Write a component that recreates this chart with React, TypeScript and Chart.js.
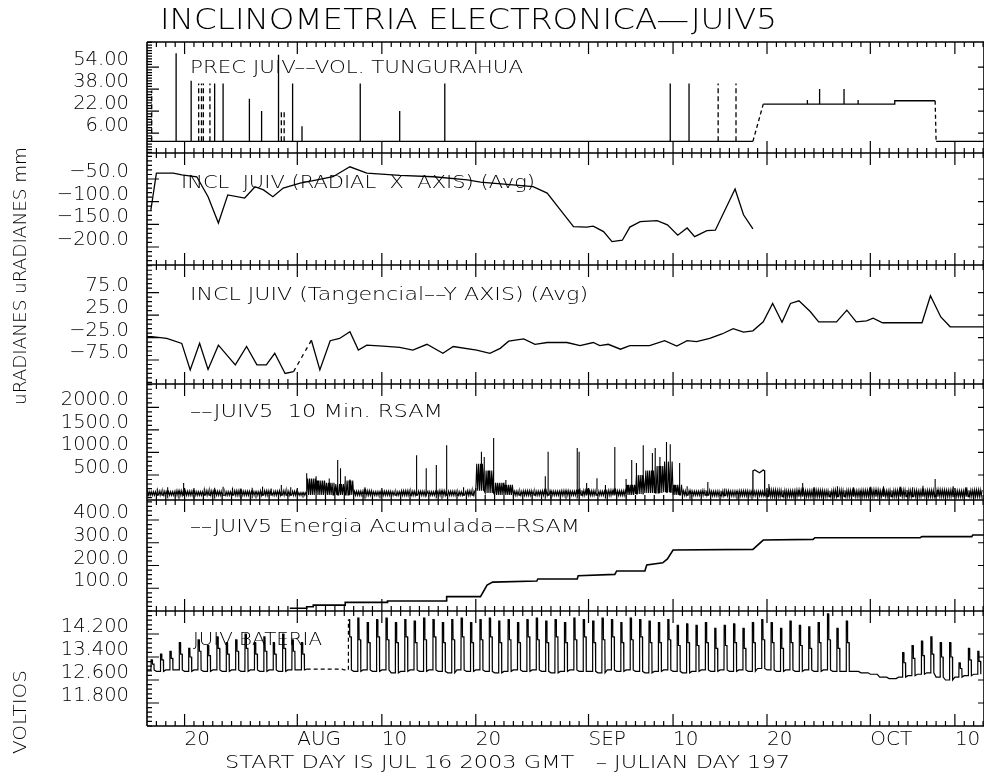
import React, { useEffect, useRef } from 'react';
import { Chart, registerables } from 'chart.js';

Chart.register(...registerables);

// ---------------- X axis (days since JUL 16 2003) ----------------
const X_MIN = 0;
const X_MAX = 89.1;
const xTickDays = [4, 16, 25, 35, 47, 56, 66, 77, 86];
const xTickLabels = ['20', 'AUG', '10', '20', 'SEP', '10', '20', 'OCT', '10'];

// ---------------- Panel 1 : precipitation (mm) ----------------
const p1Ticks = [6, 22, 38, 54];
const p1Labels = ['6.00', '22.00', '38.00', '54.00'];
const precDays = [3.1, 4.7, 7.2, 8.1, 10.9, 12.2, 14.0, 15.5, 16.5, 22.7, 26.9, 31.7, 55.7, 57.7];
const precVals = [64, 44, 42, 42, 31, 22, 63, 42, 11, 42, 22, 42, 42, 42];
const precDashDays = [0.5, 5.5, 5.8, 6.0, 6.7, 14.3, 14.6, 60.8, 62.7];
const precDashVals = [37, 42, 42, 42, 42, 22, 22, 42, 42];
const precLevelDays = [0, 64.5, 64.5, 65.6, 70.3, 70.3, 70.3, 71.6, 71.6, 71.6, 74.2, 74.2, 74.2, 75.7, 75.7, 75.7, 79.6, 79.6, 83.9, 83.9, 84.0, 89.1];
const precLevelVals = [0, 0, null, 27, 27, 30, 27, 27, 38, 27, 27, 38, 27, 27, 30, 27, 27, 29.5, 29.5, null, 0, 0];
const precGapDays = [64.5, 65.6, 65.6, 83.9, 84.0];
const precGapVals = [0, 27, null, 29.5, 0];

// ---------------- Panel 2 : radial X (uRADIANES) ----------------
const p2Ticks = [-200, -150, -100, -50];
const p2Labels = ['\u2212200.0', '\u2212150.0', '\u2212100.0', '\u221250.0'];
const radDays = [0.4, 1.0, 2.8, 3.7, 5.3, 6.5, 7.6, 8.6, 10.4, 11.5, 12.4, 13.4, 14.5, 16.3, 18.1, 19.8, 21.6, 23.4, 26.9, 30.5, 34.1, 35.5, 41.1, 42.6, 44.0, 45.4, 46.8, 47.5, 48.6, 49.5, 50.6, 51.4, 52.5, 54.3, 55.4, 56.5, 57.5, 58.3, 59.6, 60.5, 62.6, 63.5, 64.5];
const radVals = [-120, -37, -37, -41, -45, -89, -147, -85, -92, -67, -74, -89, -70, -59, -52, -45, -23, -37, -42, -45, -52, -57, -67, -81, -118, -155, -156, -154, -166, -188, -185, -156, -144, -142, -151, -174, -158, -177, -164, -163, -72, -129, -160];

// ---------------- Panel 3 : tangential Y (uRADIANES) ----------------
const p3Ticks = [-75, -25, 25, 75];
const p3Labels = ['\u221275.0', '\u221225.0', '25.0', '75.0'];
const tangDays = [0, 0.5, 2.1, 3.7, 4.6, 5.6, 6.5, 7.6, 9.4, 10.6, 11.7, 12.7, 13.6, 14.7, 15.6, 16.3, 17.5, 18.4, 19.5, 20.5, 21.6, 22.5, 23.4, 25.1, 26.9, 28.3, 29.8, 31.5, 32.6, 35.1, 36.5, 37.6, 38.5, 40.1, 41.3, 42.6, 44.7, 46.1, 47.5, 48.2, 49.1, 50.4, 51.4, 53.5, 55.1, 56.4, 57.5, 58.5, 59.9, 61.2, 62.4, 63.5, 64.5, 65.6, 66.6, 67.6, 68.5, 69.4, 70.6, 71.5, 73.4, 74.5, 75.5, 76.6, 77.3, 78.3, 82.5, 83.4, 84.5, 85.5, 89.1];
const tangVals = [-23, -23, -27, -38, -97, -38, -96, -42, -86, -45, -86, -86, -60, -105, -101, null, -31, -97, -32, -27, -12, -53, -42, -44, -47, -53, -40, -60, -45, -53, -60, -49, -33, -28, -40, -36, -36, -43, -36, -43, -40, -51, -43, -43, -32, -44, -32, -34, -27, -17, -5, -13, -10, 10, 51, 9, 51, 57, 33, 10, 10, 36, 10, 12, 18, 8, 8, 68, 21, -1, -1];
const tangGapDays = [15.6, 17.5];
const tangGapVals = [-101, -31];

// ---------------- Panel 4 : 10 min RSAM ----------------
const p4Ticks = [500, 1000, 1500, 2000];
const p4Labels = ['500.0', '1000.0', '1500.0', '2000.0'];
// daily background band (low / high)
const rsamLo = [
  50, 50, 50, 50, 50, 50, 50, 50, 50, 50,
  50, 50, 50, 50, 50, 50, 50, 60, 60, 60,
  60, 60, 50, 50, 50, 50, 50, 50, 50, 50,
  50, 50, 50, 50, 50, 150, 100, 60, 60, 50,
  50, 50, 50, 50, 50, 50, 50, 50, 50, 50,
  50, 60, 80, 100, 100, 120, 60, 50, 50, 50,
  40, 40, 40, 40, 40, 40, 20, 20, 20, 20,
  20, 20, 20, 20, 20, 20, 20, 20, 20, 20,
  20, 20, 20, 20, 20, 20, 20, 20, 20,
];
const rsamHi = [
  130, 140, 130, 150, 140, 130, 150, 140, 130, 150,
  140, 130, 150, 140, 150, 140, 110, 420, 380, 330,
  300, 380, 140, 150, 130, 140, 130, 150, 140, 140,
  130, 150, 140, 130, 150, 750, 600, 330, 280, 140,
  150, 140, 150, 140, 150, 140, 160, 150, 140, 160,
  150, 280, 500, 600, 700, 800, 280, 150, 140, 160,
  140, 150, 140, 150, 140, 140, 170, 160, 150, 160,
  150, 160, 150, 170, 160, 150, 160, 170, 150, 160,
  170, 160, 150, 160, 170, 160, 150, 160, 170,
];
const rsamSpikeDays = [1.1, 2.2, 3.9, 5.0, 6.1, 7.2, 8.1, 9.1, 10.0, 11.2, 12.3, 13.2, 14.3, 15.3, 17.0, 18.0, 19.4, 20.3, 20.6, 21.1, 21.6, 23.2, 28.7, 29.7, 30.8, 31.9, 33.7, 35.6, 35.9, 36.9, 38.2, 42.4, 42.7, 45.8, 46.0, 46.8, 47.9, 48.8, 49.8, 51.0, 51.6, 52.1, 52.8, 53.8, 54.1, 54.6, 55.3, 55.7, 56.7, 57.5, 59.7, 61.5, 66.2, 69.8, 71.0, 73.5, 75.2, 77.0, 78.4, 80.2, 81.5, 82.6, 83.9, 85.8, 87.2];
const rsamSpikeVals = [200, 230, 320, 210, 200, 220, 240, 220, 200, 220, 240, 200, 280, 230, 540, 470, 420, 830, 650, 470, 400, 230, 940, 650, 720, 1160, 230, 1015, 900, 1320, 390, 470, 1015, 1100, 1015, 320, 430, 280, 1120, 410, 830, 765, 1160, 985, 1100, 900, 1230, 1180, 765, 250, 345, 200, 300, 320, 230, 250, 230, 240, 250, 240, 230, 260, 410, 250, 230];
const rsamBlockDays = [64.5, 64.5, 64.7, 65.2, 65.6, 65.75, 65.75];
const rsamBlockVals = [40, 590, 610, 550, 610, 590, 40];

// ---------------- Panel 5 : accumulated energy ----------------
const p5Ticks = [100, 200, 300, 400];
const p5Labels = ['100.0', '200.0', '300.0', '400.0'];
const enDays = [15.2, 17.0, 17.0, 17.7, 17.7, 21.1, 21.1, 25.6, 25.6, 31.9, 31.9, 35.5, 36.2, 36.8, 41.5, 41.6, 45.8, 45.9, 49.8, 50.0, 53.0, 53.2, 54.9, 55.4, 56.0, 64.5, 65.6, 70.9, 71.1, 82.3, 82.5, 87.8, 87.9, 89.1];
const enVals = [12, 12, 19, 19, 26, 26, 38, 38, 44, 44, 63, 63, 114, 127, 132, 141, 141, 155, 161, 176, 176, 202, 212, 229, 268, 271, 312, 315, 322, 322, 327, 327, 334, 334];

// ---------------- Panel 6 : battery (VOLTIOS) ----------------
const p6Ticks = [11.8, 12.6, 13.4, 14.2];
const p6Labels = ['11.800', '12.600', '13.400', '14.200'];
const battLo = [
  12.95, 12.9, 12.95, 12.95, 12.9, 12.95, 12.9, 12.95, 12.9, 12.95,
  12.9, 12.95, 12.9, 12.95, 12.9, 12.95, 12.95, 12.98, 12.98, 12.98,
  12.98, 12.95, 12.9, 12.95, 12.9, 12.95, 12.85, 12.9, 12.95, 12.9,
  12.95, 12.9, 12.85, 12.95, 12.9, 12.95, 12.9, 12.85, 12.9, 12.95,
  12.9, 12.95, 12.9, 12.85, 12.9, 12.95, 12.9, 12.9, 12.85, 12.95,
  12.9, 12.95, 12.9, 12.85, 12.9, 12.95, 12.9, 12.85, 12.9, 12.95,
  12.9, 12.95, 12.9, 12.95, 12.9, 13.0, 12.95, 12.9, 12.95, 12.9,
  12.95, 12.9, 12.95, 12.9, 12.9, 12.9, 12.85, 12.8, 12.7, 12.65,
  12.7, 12.75, 12.8, 12.85, 12.7, 12.6, 12.7, 12.75, 12.8,
];
const battHi = [
  13.3, 13.5, 13.6, 13.9, 13.7, 14.0, 13.8, 14.1, 13.9, 14.0,
  14.2, 13.9, 14.1, 13.9, 14.2, 14.0, 13.9, 12.98, 12.98, 12.98,
  12.98, 14.7, 14.75, 14.6, 14.7, 14.75, 14.6, 14.7, 14.65, 14.75,
  14.7, 14.6, 14.7, 14.75, 14.6, 14.7, 14.75, 14.65, 14.7, 14.6,
  14.7, 14.75, 14.65, 14.7, 14.6, 14.75, 14.7, 14.65, 14.75, 14.7,
  14.6, 14.75, 14.7, 14.65, 14.6, 14.7, 14.5, 14.55, 14.5, 14.6,
  14.4, 14.5, 14.55, 14.4, 14.6, 14.7, 14.6, 14.4, 14.65, 14.5,
  14.45, 14.6, 14.9, 14.4, 14.65, 12.9, 12.85, 12.8, 12.7, 12.65,
  13.55, 13.8, 13.95, 14.1, 13.9, 13.9, 13.2, 13.7, 13.6,
];
// the descending second step on top of each daily charge
const battMid = [
  13.15, 13.3, 13.35, 13.5, 13.4, 13.6, 13.45, 13.7, 13.5, 13.6,
  13.7, 13.5, 13.6, 13.5, 13.7, 13.6, 13.5, 12.98, 12.98, 12.98,
  12.98, 14.1, 14.0, 13.9, 14.1, 14.0, 13.9, 14.1, 13.9, 14.0,
  14.1, 13.9, 14.0, 14.1, 13.9, 14.0, 14.1, 13.9, 14.0, 13.9,
  14.1, 14.0, 13.9, 14.1, 13.9, 14.0, 14.1, 13.9, 14.0, 14.1,
  13.9, 14.0, 14.1, 13.9, 13.9, 14.0, 13.8, 13.9, 13.8, 13.9,
  13.7, 13.8, 13.9, 13.7, 13.9, 14.0, 13.9, 13.7, 13.9, 13.8,
  13.7, 13.9, 14.0, 13.7, 13.9, 12.9, 12.85, 12.8, 12.7, 12.65,
  13.2, 13.35, 13.45, 13.5, 13.4, 13.4, 13.0, 13.3, 13.25,
];
const battDashRanges = [[16.9, 21.45]];

// ---------------- Texts ----------------
const TITLE = 'INCLINOMETRIA ELECTRONICA\u2014JUIV5';
const FOOT = 'START DAY IS JUL 16 2003 GMT   \u2013 JULIAN DAY 197';
const SIDE_INCL = 'uRADIANES uRADIANES mm';
const SIDE_VOLT = 'VOLTIOS';

const FONT = '"DejaVu Sans", "Liberation Sans", sans-serif';
const WEIGHT = 200;

type Panel = {
  id: string; min: number; max: number; h: number; minor: number;
  ticks: number[]; labels: string[]; title: string; tx: number; ty: number; tw: number;
};

const panels: Panel[] = [
  { id: 'p1', min: -8.5, max: 72.2, h: 111, minor: 2, ticks: p1Ticks, labels: p1Labels, title: 'PREC JUIV\u2013\u2013VOL. TUNGURAHUA', tx: 43, ty: 26, tw: 333 },
  { id: 'p2', min: -239.7, max: 7.4, h: 112, minor: 10, ticks: p2Ticks, labels: p2Labels, title: 'INCL  JUIV (RADIAL  X  AXIS) (Avg)', tx: 34, ty: 30, tw: 354 },
  { id: 'p3', min: -128.5, max: 136.7, h: 119, minor: 10, ticks: p3Ticks, labels: p3Labels, title: 'INCL JUIV (Tangencial\u2013\u2013Y AXIS) (Avg)', tx: 43, ty: 30, tw: 398 },
  { id: 'p4', min: -54, max: 2516, h: 116, minor: 100, ticks: p4Ticks, labels: p4Labels, title: '\u2013\u2013JUIV5  10 Min. RSAM', tx: 43, ty: 28, tw: 253 },
  { id: 'p5', min: 0, max: 488, h: 111, minor: 20, ticks: p5Ticks, labels: p5Labels, title: '\u2013\u2013JUIV5 Energia Acumulada\u2013\u2013RSAM', tx: 43, ty: 27, tw: 390 },
  { id: 'p6', min: 11, max: 15, h: 115, minor: 0.16, ticks: p6Ticks, labels: p6Labels, title: 'JUIV BATERIA', tx: 46, ty: 29, tw: 129 },
];

// ---------------- helpers ----------------
const xy = (days: number[], vals: (number | null)[]) => days.map((d, i) => ({ x: d, y: vals[i] }));
const spikes = (days: number[], vals: number[]) =>
  days.flatMap((d, i) => [{ x: d, y: 0 }, { x: d, y: vals[i] }, { x: d, y: null }]);

function buildRsam() {
  const pts: { x: number; y: number }[] = [];
  for (let i = 0; i < rsamLo.length; i++) {
    const lo = rsamLo[i];
    const hi = rsamHi[i];
    const day: { x: number; y: number }[] = [];
    for (let k = 0; k < 10; k++) day.push({ x: i + k / 10, y: k % 2 === 0 ? lo : hi });
    rsamSpikeDays.forEach((d, k) => {
      if (d >= i && d < i + 1) day.push({ x: d, y: lo }, { x: d, y: rsamSpikeVals[k] }, { x: d, y: lo });
    });
    day.sort((a, b) => a.x - b.x);
    pts.push(...day);
  }
  return pts;
}

function buildBatt() {
  const pts: { x: number; y: number }[] = [];
  for (let i = 0; i < battLo.length; i++) {
    pts.push(
      { x: i, y: battLo[i] },
      { x: i + 0.42, y: battLo[i] },
      { x: i + 0.44, y: battHi[i] },
      { x: i + 0.56, y: battHi[i] },
      { x: i + 0.58, y: battMid[i] },
      { x: i + 0.74, y: battMid[i] },
      { x: i + 0.76, y: battLo[i] },
    );
  }
  return pts;
}

function fitText(ctx: CanvasRenderingContext2D, text: string, x: number, y: number, w: number, size: number, rotate = false) {
  ctx.save();
  ctx.font = `${WEIGHT} ${size}px ${FONT}`;
  const m = ctx.measureText(text).width;
  ctx.translate(x, y);
  if (rotate) ctx.rotate(-Math.PI / 2);
  ctx.scale(w / m, 1);
  ctx.textAlign = rotate ? 'center' : 'left';
  ctx.textBaseline = 'middle';
  ctx.fillStyle = '#000';
  ctx.fillText(text, 0, 0);
  ctx.restore();
}

const framePlugin = {
  id: 'framePlugin',
  afterDraw(chart: any) {
    const { ctx, chartArea: a, scales } = chart;
    const xs = scales.x;
    ctx.save();
    ctx.strokeStyle = '#000';
    const seg = (x1: number, y1: number, x2: number, y2: number) => { ctx.moveTo(x1, y1); ctx.lineTo(x2, y2); };

    ctx.beginPath();
    ctx.lineWidth = 1.6;
    seg(a.left, a.top, a.left, a.bottom);
    seg(a.right, a.top, a.right, a.bottom);
    panels.forEach((p) => {
      const s = scales[p.id];
      seg(a.left, s.top, a.right, s.top);
      seg(a.left, s.bottom, a.right, s.bottom);
    });
    ctx.stroke();

    ctx.beginPath();
    ctx.lineWidth = 1.2;
    panels.forEach((p) => {
      const s = scales[p.id];
      for (let d = 1; d <= X_MAX; d++) {
        const x = xs.getPixelForValue(d);
        const len = xTickDays.includes(d) ? 12 : 5;
        seg(x, s.top, x, s.top + len);
        seg(x, s.bottom, x, s.bottom - len);
      }
      const base = p.ticks[0];
      const kmin = Math.ceil((p.min - base) / p.minor - 1e-6);
      const kmax = Math.floor((p.max - base) / p.minor + 1e-6);
      for (let k = kmin; k <= kmax; k++) {
        const v = base + k * p.minor;
        const y = s.getPixelForValue(v);
        const major = p.ticks.some((t) => Math.abs(t - v) < p.minor / 10);
        seg(a.left, y, a.left + (major ? 12 : 5), y);
      }
      p.ticks.forEach((t) => {
        const y = s.getPixelForValue(t);
        seg(a.right, y, a.right - 6, y);
      });
    });
    ctx.stroke();

    panels.forEach((p) => {
      const s = scales[p.id];
      fitText(ctx, p.title, a.left + p.tx, s.top + p.ty, p.tw, 18);
    });
    fitText(ctx, TITLE, 160, 22, 617, 28);
    fitText(ctx, FOOT, 225, 763, 565, 18);
    fitText(ctx, SIDE_INCL, 21, 276, 258, 18, true);
    fitText(ctx, SIDE_VOLT, 21, 712, 84, 18, true);
    ctx.restore();
  },
};

export default function App() {
  const ref = useRef<HTMLCanvasElement>(null);

  useEffect(() => {
    if (!ref.current) return;
    const line = (data: any[], yAxisID: string, extra: any = {}) => ({
      type: 'line', data, yAxisID, xAxisID: 'x', borderColor: '#000', borderWidth: 1.3,
      pointRadius: 0, pointHoverRadius: 0, fill: false, tension: 0, spanGaps: false, ...extra,
    });
    const inDash = (c: any) => battDashRanges.some(([a, b]) => c.p0.parsed.x >= a && c.p1.parsed.x <= b);

    const scales: any = {
      x: {
        type: 'linear', position: 'bottom', min: X_MIN, max: X_MAX,
        grid: { display: false, drawTicks: false }, border: { display: false },
        afterBuildTicks: (s: any) => { s.ticks = xTickDays.map((v) => ({ value: v })); },
        afterFit: (s: any) => { s.height = 47; s.paddingLeft = 0; s.paddingRight = 0; },
        ticks: {
          autoSkip: false, maxRotation: 0, minRotation: 0, align: 'start', padding: 2, color: '#000',
          font: { family: FONT, size: 20, weight: WEIGHT },
          callback: (_v: any, i: number) => xTickLabels[i],
        },
      },
    };
    panels.forEach((p, k) => {
      scales[p.id] = {
        type: 'linear', position: 'left', stack: 'panels', stackWeight: p.h, weight: panels.length - k,
        min: p.min, max: p.max, offset: false,
        grid: { display: false, drawTicks: false }, border: { display: false },
        afterBuildTicks: (s: any) => { s.ticks = p.ticks.map((v) => ({ value: v })); },
        afterFit: (s: any) => { s.width = 147; s.paddingTop = 0; s.paddingBottom = 0; },
        ticks: {
          autoSkip: false, padding: 18, labelOffset: -7, color: '#000',
          font: { family: FONT, size: 19.5, weight: WEIGHT },
          callback: (_v: any, i: number) => p.labels[i],
        },
      };
    });

    const chart = new Chart(ref.current, {
      type: 'line',
      data: {
        datasets: [
          line(xy(precLevelDays, precLevelVals), 'p1'),
          line(xy(precGapDays, precGapVals), 'p1', { borderDash: [4, 3] }),
          line(spikes(precDays, precVals), 'p1'),
          line(spikes(precDashDays, precDashVals), 'p1', { borderDash: [5, 3] }),
          line(xy(radDays, radVals), 'p2'),
          line(xy(tangDays, tangVals), 'p3'),
          line(xy(tangGapDays, tangGapVals), 'p3', { borderDash: [4, 4] }),
          line(buildRsam(), 'p4', { borderWidth: 1.1 }),
          line(xy(rsamBlockDays, rsamBlockVals), 'p4'),
          line(xy(enDays, enVals), 'p5', { borderWidth: 1.6 }),
          line(buildBatt(), 'p6', { borderWidth: 1.2, segment: { borderDash: (c: any) => (inDash(c) ? [4, 3] : undefined) } }),
        ] as any,
      },
      options: {
        animation: false,
        responsive: false,
        devicePixelRatio: 1,
        events: [],
        layout: { padding: { top: 42, left: 0, right: 0, bottom: 0 } },
        plugins: { legend: { display: false }, tooltip: { enabled: false }, title: { display: false } },
        scales,
      } as any,
      plugins: [framePlugin],
    });
    return () => chart.destroy();
  }, []);

  return (
    <div style={{ position: 'fixed', left: 0, top: 0, width: 984, height: 773, background: '#fff' }}>
      <canvas ref={ref} width={984} height={773} style={{ display: 'block', width: 984, height: 773 }} />
    </div>
  );
}
